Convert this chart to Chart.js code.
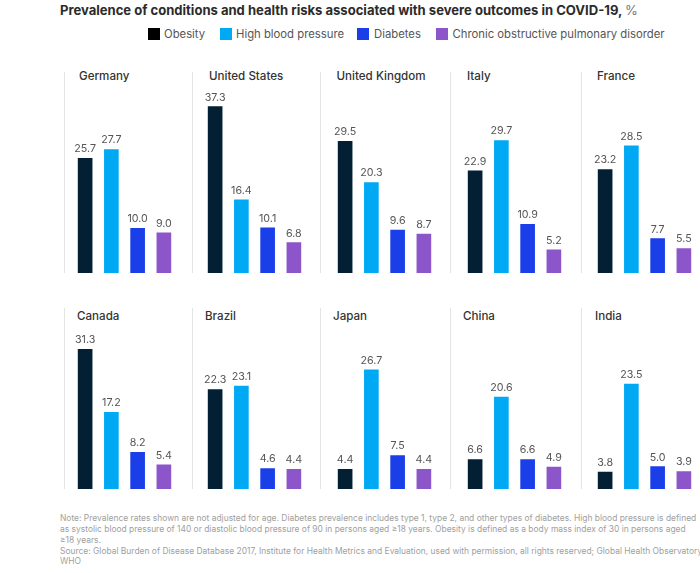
<!DOCTYPE html>
<html lang="en">
<head>
<meta charset="UTF-8">
<script src="https://cdn.jsdelivr.net/npm/chart.js"></script>
<title>Prevalence of conditions</title>
<style>
    html, body { margin: 0; padding: 0; background: #fff; }
    body { width: 700px; height: 573px; overflow: hidden; position: relative; font-family: Inter, sans-serif; }
    .abs { position: absolute; white-space: nowrap; }
    #title { left: 60px; top: 1px; font-size: 13.05px; line-height: 19px; font-weight: 700; color: #2b2b2b; }
    #title span { font-weight: 400; color: #777; }
    .swatch { position: absolute; top: 28px; width: 12px; height: 12px; }
    .legendText { top: 26px; font-size: 11.3px; line-height: 16px; color: #555; }
    .sep { position: absolute; width: 1px; background: #e4e4e4; }
    .panelName { font-size: 11.6px; line-height: 16px; color: #333; font-weight: 500; }
    .note { left: 60px; font-size: 8.45px; line-height: 11px; color: #a0a0a0; }
    canvas { position: absolute; }
</style>
</head>
<body>
<div id="title" class="abs">Prevalence of conditions and health risks associated with severe outcomes in COVID-19, <span>%</span></div>

<script>
    const countries = ["Germany", "United States", "United Kingdom", "Italy", "France",
        "Canada", "Brazil", "Japan", "China", "India"];
    const seriesNames = ["Obesity", "High blood pressure", "Diabetes", "Chronic obstructive pulmonary disorder"];

    const obesity = [25.7, 37.3, 29.5, 22.9, 23.2, 31.3, 22.3, 4.4, 6.6, 3.8];
    const highBloodPressure = [27.7, 16.4, 20.3, 29.7, 28.5, 17.2, 23.1, 26.7, 20.6, 23.5];
    const diabetes = [10.0, 10.1, 9.6, 10.9, 7.7, 8.2, 4.6, 7.5, 6.6, 5.0];
    const copd = [9.0, 6.8, 8.7, 5.2, 5.5, 5.4, 4.4, 4.4, 4.9, 3.9];

    const barColors = ["#021f33", "#00a9f4", "#1a3fe8", "#8c55c9"];
    const legendSwatchColors = ["#000000", "#00a9f4", "#1a3fe8", "#8c55c9"];

    const noteLines = [
        "Note: Prevalence rates shown are not adjusted for age. Diabetes prevalence includes type 1, type 2, and other types of diabetes. High blood pressure is defined",
        "as systolic blood pressure of 140 or diastolic blood pressure of 90 in persons aged ≥18 years. Obesity is defined as a body mass index of 30 in persons aged",
        "≥18 years.",
        "Source: Global Burden of Disease Database 2017, Institute for Health Metrics and Evaluation, used with permission, all rights reserved; Global Health Observatory,",
        "WHO"
    ];

    // layout
    const swatchX = [147.5, 220, 357, 436];
    const legendTextX = [164, 236, 374, 452.5];
    const sepX = [64, 192, 320, 450, 581];
    const nameX = [79, 209, 336.5, 467, 597, 77, 205, 333, 463, 595];
    const noteY = [513, 524, 535, 545.5, 556];

    function addDiv(cls, text, left, top) {
        const d = document.createElement("div");
        d.className = cls;
        d.textContent = text;
        d.style.left = left + "px";
        if (top !== null) d.style.top = top + "px";
        document.body.appendChild(d);
        return d;
    }

    seriesNames.forEach(function(name, i) {
        const s = addDiv("swatch", "", swatchX[i], null);
        s.style.background = legendSwatchColors[i];
        addDiv("abs legendText", name, legendTextX[i], null);
    });

    noteLines.forEach(function(line, i) {
        addDiv("abs note", line, 60, noteY[i]);
    });

    // value labels above the bars
    const valueLabels = {
        id: "valueLabels",
        afterDatasetsDraw: function(chart) {
            const ctx = chart.ctx;
            const ds = chart.data.datasets[0];
            ctx.save();
            ctx.font = "10.7px Inter, sans-serif";
            ctx.fillStyle = "#555";
            ctx.textAlign = "center";
            ctx.textBaseline = "bottom";
            chart.getDatasetMeta(0).data.forEach(function(bar, i) {
                ctx.fillText(ds.data[i].toFixed(1), bar.x, bar.y - 4);
            });
            ctx.restore();
        }
    };

    countries.forEach(function(country, i) {
        const col = i % 5;
        const row = Math.floor(i / 5);
        const baseline = row === 0 ? 273 : 489;

        const sep = addDiv("sep", "", sepX[col], baseline - (row === 0 ? 201 : 181));
        sep.style.height = (row === 0 ? 201 : 181) + "px";
        addDiv("abs panelName", country, nameX[i], row === 0 ? 68 : 308);

        const canvas = document.createElement("canvas");
        canvas.width = 105;
        canvas.height = 188;
        canvas.style.left = (71.875 + 130 * col) + "px";
        canvas.style.top = (baseline - 188) + "px";
        document.body.appendChild(canvas);

        new Chart(canvas, {
            type: "bar",
            data: {
                labels: seriesNames,
                datasets: [{
                    data: [obesity[i], highBloodPressure[i], diabetes[i], copd[i]],
                    backgroundColor: barColors,
                    barThickness: 14
                }]
            },
            options: {
                responsive: false,
                animation: false,
                layout: { padding: { top: 9.6, bottom: 0, left: 0, right: 0 } },
                plugins: { legend: { display: false }, tooltip: { enabled: false } },
                scales: {
                    x: { display: false },
                    y: { display: false, min: 0, max: 40 }
                }
            },
            plugins: [valueLabels]
        });
    });
</script>
</body>
</html>
